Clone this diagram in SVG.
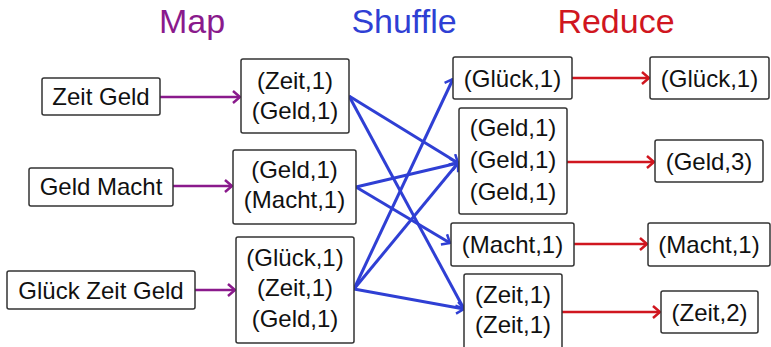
<svg xmlns="http://www.w3.org/2000/svg" width="771" height="347" viewBox="0 0 771 347">
  <defs>
    <style>
      .box { fill: #ffffff; stroke: #333333; stroke-width: 1.5; }
      .t { font-family: "Liberation Sans", Arial, sans-serif; font-size: 24px; fill: #111111; text-anchor: middle; }
      .title { font-family: "Liberation Sans", Arial, sans-serif; font-size: 34px; text-anchor: middle; }
      .map { stroke: #8a1a8c; stroke-width: 2.5; fill: none; }
      .shuf { stroke: #2f3fd4; stroke-width: 3; fill: none; }
      .red { stroke: #d0161f; stroke-width: 2.5; fill: none; }
    </style>
    <marker id="ah-map" viewBox="0 0 10 14" refX="9" refY="7" markerWidth="10" markerHeight="14" markerUnits="userSpaceOnUse" orient="auto">
      <path d="M2,1 L9,7 L2,13" fill="none" stroke="#8a1a8c" stroke-width="2.5"/>
    </marker>
    <marker id="ah-shuf" viewBox="0 0 10 14" refX="9" refY="7" markerWidth="10" markerHeight="14" markerUnits="userSpaceOnUse" orient="auto">
      <path d="M2,1 L9,7 L2,13" fill="none" stroke="#2f3fd4" stroke-width="2.5"/>
    </marker>
    <marker id="ah-red" viewBox="0 0 10 14" refX="9" refY="7" markerWidth="10" markerHeight="14" markerUnits="userSpaceOnUse" orient="auto">
      <path d="M2,1 L9,7 L2,13" fill="none" stroke="#d0161f" stroke-width="2.5"/>
    </marker>
  </defs>

  <rect width="771" height="347" fill="#ffffff"/>

  <!-- phase headings -->
  <g id="headings">
    <text class="title" x="192" y="33" fill="#8a1a8c">Map</text>
    <text class="title" x="404" y="33" fill="#2f3fd4">Shuffle</text>
    <text class="title" x="616" y="33" fill="#d0161f">Reduce</text>
  </g>

  <!-- connectors -->
  <g id="connectors">
    <line class="map" x1="160" y1="97" x2="240" y2="97" marker-end="url(#ah-map)"/>
    <line class="map" x1="173" y1="186" x2="232" y2="186" marker-end="url(#ah-map)"/>
    <line class="map" x1="195" y1="290" x2="235" y2="290" marker-end="url(#ah-map)"/>

    <line class="shuf" x1="349" y1="96" x2="458" y2="163" marker-end="url(#ah-shuf)"/>
    <line class="shuf" x1="349" y1="96" x2="464" y2="309" marker-end="url(#ah-shuf)"/>
    <line class="shuf" x1="356" y1="187" x2="458" y2="163" marker-end="url(#ah-shuf)"/>
    <line class="shuf" x1="356" y1="187" x2="450" y2="243" marker-end="url(#ah-shuf)"/>
    <line class="shuf" x1="354" y1="289" x2="453" y2="79" marker-end="url(#ah-shuf)"/>
    <line class="shuf" x1="354" y1="289" x2="458" y2="163" marker-end="url(#ah-shuf)"/>
    <line class="shuf" x1="354" y1="289" x2="464" y2="309" marker-end="url(#ah-shuf)"/>

    <line class="red" x1="572" y1="78" x2="649" y2="78" marker-end="url(#ah-red)"/>
    <line class="red" x1="567" y1="162" x2="654" y2="162" marker-end="url(#ah-red)"/>
    <line class="red" x1="574" y1="244" x2="647" y2="244" marker-end="url(#ah-red)"/>
    <line class="red" x1="562" y1="312" x2="660" y2="312" marker-end="url(#ah-red)"/>
  </g>

  <!-- input lines -->
  <g id="in1"><rect class="box" x="42" y="78" width="118" height="37" rx="2"/><text class="t" x="101" y="105">Zeit Geld</text></g>
  <g id="in2"><rect class="box" x="29" y="168" width="144" height="38" rx="2"/><text class="t" x="101" y="195">Geld Macht</text></g>
  <g id="in3"><rect class="box" x="7" y="271" width="188" height="38" rx="2"/><text class="t" x="101" y="299">Glück Zeit Geld</text></g>

  <!-- map outputs -->
  <g id="map1"><rect class="box" x="241" y="59" width="108" height="74" rx="2"/>
    <text class="t" x="295" y="89">(Zeit,1)</text><text class="t" x="295" y="119">(Geld,1)</text></g>
  <g id="map2"><rect class="box" x="233" y="150" width="123" height="74" rx="2"/>
    <text class="t" x="294.5" y="178">(Geld,1)</text><text class="t" x="294.5" y="208">(Macht,1)</text></g>
  <g id="map3"><rect class="box" x="236" y="237" width="118" height="106" rx="2"/>
    <text class="t" x="295" y="266">(Glück,1)</text><text class="t" x="295" y="296">(Zeit,1)</text><text class="t" x="295" y="327">(Geld,1)</text></g>

  <!-- shuffle groups -->
  <g id="grp-glueck"><rect class="box" x="453" y="57" width="119" height="42" rx="2"/><text class="t" x="512.5" y="87">(Glück,1)</text></g>
  <g id="grp-geld"><rect class="box" x="459" y="108" width="108" height="106" rx="2"/>
    <text class="t" x="513" y="136">(Geld,1)</text><text class="t" x="513" y="168">(Geld,1)</text><text class="t" x="513" y="200">(Geld,1)</text></g>
  <g id="grp-macht"><rect class="box" x="451" y="223" width="123" height="43" rx="2"/><text class="t" x="512.5" y="253">(Macht,1)</text></g>
  <g id="grp-zeit"><rect class="box" x="464" y="274" width="98" height="80" rx="2"/>
    <text class="t" x="513" y="303">(Zeit,1)</text><text class="t" x="513" y="333">(Zeit,1)</text></g>

  <!-- reduce results -->
  <g id="res-glueck"><rect class="box" x="650" y="57" width="119" height="42" rx="2"/><text class="t" x="709.5" y="87">(Glück,1)</text></g>
  <g id="res-geld"><rect class="box" x="655" y="140" width="108" height="42" rx="2"/><text class="t" x="709" y="170">(Geld,3)</text></g>
  <g id="res-macht"><rect class="box" x="648" y="223" width="122" height="43" rx="2"/><text class="t" x="709" y="253">(Macht,1)</text></g>
  <g id="res-zeit"><rect class="box" x="661" y="291" width="97" height="42" rx="2"/><text class="t" x="709.5" y="321">(Zeit,2)</text></g>
</svg>
